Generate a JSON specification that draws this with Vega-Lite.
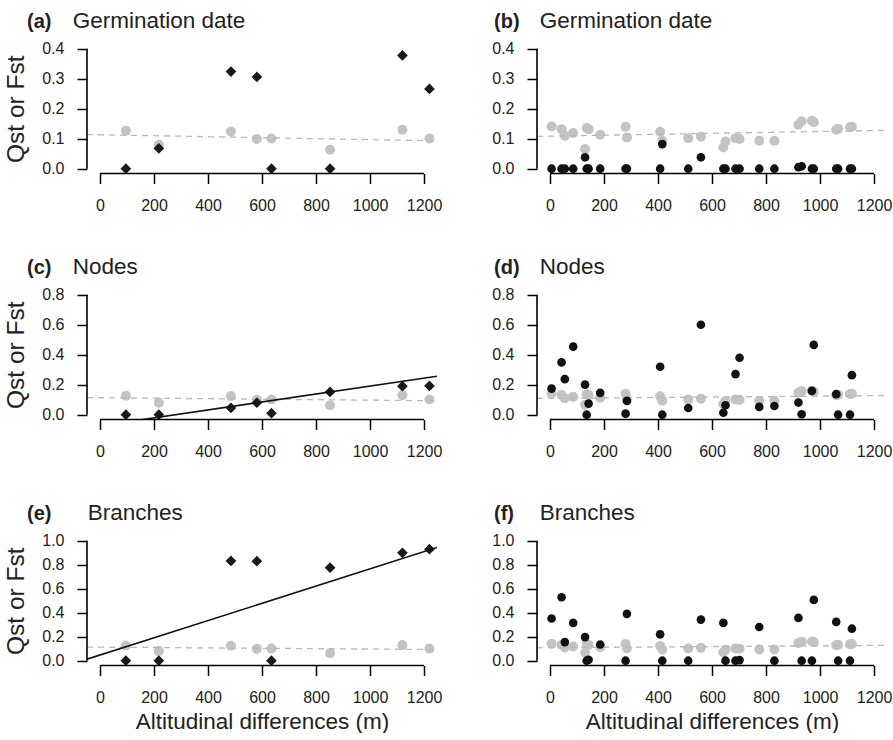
{
  "$schema": "https://vega.github.io/schema/vega-lite/v6.json",
  "background": "white",
  "padding": {"left": 3, "top": 10, "right": 0, "bottom": 0},
  "config": {
    "view": {"stroke": null},
    "font": "Liberation Sans",
    "axis": {
      "grid": false, "domain": false, "tickCount": 20,
      "tickColor": "#000", "tickWidth": 1.5, "tickSize": 10,
      "labelFont": "Liberation Sans", "labelFontSize": 16, "labelColor": "#222",
      "labelOverlap": false, "labelFlush": false,
      "titleFont": "Liberation Sans", "titleFontSize": 22.5, "titleFontWeight": "normal", "titleColor": "#222"
    },
    "axisX": {"labelPadding": 14, "titlePadding": 5, "format": "d"},
    "axisY": {"labelPadding": 13, "titlePadding": 13, "format": ".1f", "titleFontSize": 24.5},
    "title": {
      "anchor": "start", "frame": "group", "offset": 6,
      "font": "Liberation Sans", "fontSize": 20, "fontWeight": "bold", "color": "#222",
      "subtitleFont": "Liberation Sans", "subtitleFontSize": 22.5, "subtitleFontWeight": "normal",
      "subtitleColor": "#222", "subtitlePadding": -22
    }
  },
  "datasets": {
    "left": [
      {"x": 96, "fst": 0.127, "germ": 0.0, "nodes": 0.0, "branches": 0.0},
      {"x": 218, "fst": 0.080, "germ": 0.068, "nodes": 0.0, "branches": 0.0},
      {"x": 485, "fst": 0.124, "germ": 0.324, "nodes": 0.045, "branches": 0.832},
      {"x": 581, "fst": 0.099, "germ": 0.306, "nodes": 0.080, "branches": 0.830},
      {"x": 635, "fst": 0.101, "germ": 0.0, "nodes": 0.010, "branches": 0.0},
      {"x": 852, "fst": 0.063, "germ": 0.0, "nodes": 0.152, "branches": 0.776},
      {"x": 1120, "fst": 0.130, "germ": 0.378, "nodes": 0.190, "branches": 0.900},
      {"x": 1220, "fst": 0.101, "germ": 0.266, "nodes": 0.192, "branches": 0.930}
    ],
    "right": [
      {"x": 6, "fst": 0.141, "germ": 0.0, "nodes": 0.174, "branches": 0.352},
      {"x": 43, "fst": 0.132, "germ": 0.0, "nodes": 0.349, "branches": 0.529},
      {"x": 55, "fst": 0.110, "germ": 0.0, "nodes": 0.237, "branches": 0.155},
      {"x": 86, "fst": 0.119, "germ": 0.0, "nodes": 0.454, "branches": 0.315},
      {"x": 130, "fst": 0.066, "germ": 0.038, "nodes": 0.201, "branches": 0.197},
      {"x": 136, "fst": 0.136, "germ": 0.0, "nodes": 0.0, "branches": 0.0},
      {"x": 143, "fst": 0.132, "germ": 0.0, "nodes": 0.074, "branches": 0.008},
      {"x": 186, "fst": 0.113, "germ": 0.0, "nodes": 0.146, "branches": 0.135},
      {"x": 280, "fst": 0.140, "germ": 0.0, "nodes": 0.007, "branches": 0.0},
      {"x": 285, "fst": 0.104, "germ": 0.0, "nodes": 0.092, "branches": 0.391},
      {"x": 408, "fst": 0.123, "germ": 0.0, "nodes": 0.320, "branches": 0.220},
      {"x": 416, "fst": 0.093, "germ": 0.082, "nodes": 0.0, "branches": 0.0},
      {"x": 512, "fst": 0.102, "germ": 0.0, "nodes": 0.045, "branches": 0.0},
      {"x": 559, "fst": 0.107, "germ": 0.038, "nodes": 0.600, "branches": 0.343},
      {"x": 642, "fst": 0.071, "germ": 0.0, "nodes": 0.013, "branches": 0.315},
      {"x": 650, "fst": 0.091, "germ": 0.0, "nodes": 0.063, "branches": 0.0},
      {"x": 687, "fst": 0.102, "germ": 0.0, "nodes": 0.271, "branches": 0.0},
      {"x": 702, "fst": 0.099, "germ": 0.0, "nodes": 0.380, "branches": 0.005},
      {"x": 775, "fst": 0.093, "germ": 0.0, "nodes": 0.052, "branches": 0.281},
      {"x": 831, "fst": 0.093, "germ": 0.0, "nodes": 0.058, "branches": 0.0},
      {"x": 920, "fst": 0.147, "germ": 0.005, "nodes": 0.081, "branches": 0.357},
      {"x": 932, "fst": 0.158, "germ": 0.008, "nodes": 0.003, "branches": 0.0},
      {"x": 970, "fst": 0.160, "germ": 0.0, "nodes": 0.159, "branches": 0.0},
      {"x": 977, "fst": 0.155, "germ": 0.0, "nodes": 0.466, "branches": 0.507},
      {"x": 1060, "fst": 0.130, "germ": 0.0, "nodes": 0.137, "branches": 0.324},
      {"x": 1067, "fst": 0.133, "germ": 0.0, "nodes": 0.0, "branches": 0.0},
      {"x": 1111, "fst": 0.138, "germ": 0.0, "nodes": 0.0, "branches": 0.0},
      {"x": 1118, "fst": 0.140, "germ": 0.0, "nodes": 0.264, "branches": 0.267}
    ],
    "fstline": [
      {"side": "left", "x": -48, "y": 0.114},
      {"side": "left", "x": 1248, "y": 0.093},
      {"side": "right", "x": -48, "y": 0.108},
      {"side": "right", "x": 1248, "y": 0.128}
    ],
    "qstfit": [
      {"trait": "nodes", "x": -48, "y": -0.087},
      {"trait": "nodes", "x": 1248, "y": 0.257},
      {"trait": "branches", "x": -48, "y": 0.013},
      {"trait": "branches", "x": 1248, "y": 0.944}
    ]
  },
  "columns": 2,
  "spacing": {"row": 116, "column": 100},
  "bounds": "flush",
  "concat": [
    {
      "width": 350, "height": 129.5,
      "title": {"text": "(a)", "subtitle": "\u200b\u00a0\u00a0\u00a0\u00a0\u00a0\u00a0\u00a0\u200aGermination date", "dx": -60},
      "layer": [
        {"data": {"name": "left"}, "mark": {"type": "point", "filled": true, "shape": "circle", "size": 100, "color": "#c3c3c3", "opacity": 1},
         "encoding": {
           "x": {"field": "x", "type": "quantitative", "scale": {"domain": [-48, 1248], "nice": false, "zero": false}, "axis": {"values": [0, 200, 400, 600, 800, 1000, 1200], "title": null}},
           "y": {"field": "fst", "type": "quantitative", "scale": {"domain": [-0.016, 0.416], "nice": false, "zero": false}, "axis": {"values": [0, 0.1, 0.2, 0.3, 0.4], "title": "Qst or Fst"}}}},
        {"data": {"name": "fstline"}, "transform": [{"filter": "datum.side == 'left'"}], "mark": {"type": "line", "strokeDash": [6, 5], "color": "#b8b8b8", "strokeWidth": 1.3},
         "encoding": {"x": {"field": "x", "type": "quantitative"}, "y": {"field": "y", "type": "quantitative"}}},
        {"data": {"name": "left"}, "mark": {"type": "point", "filled": true, "shape": "diamond", "size": 115, "color": "#1a1a1a", "opacity": 1},
         "encoding": {"x": {"field": "x", "type": "quantitative"}, "y": {"field": "germ", "type": "quantitative"}}},
        {"data": {"values": [{}]}, "mark": {"type": "rule", "color": "#000", "strokeWidth": 1.6},
         "encoding": {"x": {"datum": 0}, "x2": {"datum": 1200}, "y": {"datum": -0.016}}},
        {"data": {"values": [{}]}, "mark": {"type": "rule", "color": "#000", "strokeWidth": 1.6},
         "encoding": {"x": {"datum": -48}, "y": {"datum": 0}, "y2": {"datum": 0.4}}}
      ]
    },
    {
      "width": 350, "height": 129.5,
      "title": {"text": "(b)", "subtitle": "\u200b\u00a0\u00a0\u00a0\u00a0\u00a0\u00a0\u00a0\u200aGermination date", "dx": -43},
      "layer": [
        {"data": {"name": "right"}, "mark": {"type": "point", "filled": true, "shape": "circle", "size": 100, "color": "#c3c3c3", "opacity": 1},
         "encoding": {
           "x": {"field": "x", "type": "quantitative", "scale": {"domain": [-48, 1248], "nice": false, "zero": false}, "axis": {"values": [0, 200, 400, 600, 800, 1000, 1200], "title": null}},
           "y": {"field": "fst", "type": "quantitative", "scale": {"domain": [-0.016, 0.416], "nice": false, "zero": false}, "axis": {"values": [0, 0.1, 0.2, 0.3, 0.4], "title": null}}}},
        {"data": {"name": "fstline"}, "transform": [{"filter": "datum.side == 'right'"}], "mark": {"type": "line", "strokeDash": [6, 5], "color": "#b8b8b8", "strokeWidth": 1.3},
         "encoding": {"x": {"field": "x", "type": "quantitative"}, "y": {"field": "y", "type": "quantitative"}}},
        {"data": {"name": "right"}, "mark": {"type": "point", "filled": true, "shape": "circle", "size": 75, "color": "#111", "opacity": 1},
         "encoding": {"x": {"field": "x", "type": "quantitative"}, "y": {"field": "germ", "type": "quantitative"}}},
        {"data": {"values": [{}]}, "mark": {"type": "rule", "color": "#000", "strokeWidth": 1.6},
         "encoding": {"x": {"datum": 0}, "x2": {"datum": 1200}, "y": {"datum": -0.016}}},
        {"data": {"values": [{}]}, "mark": {"type": "rule", "color": "#000", "strokeWidth": 1.6},
         "encoding": {"x": {"datum": -48}, "y": {"datum": 0}, "y2": {"datum": 0.4}}}
      ]
    },
    {
      "width": 350, "height": 129.5,
      "title": {"text": "(c)", "subtitle": "\u200b\u00a0\u00a0\u00a0\u00a0\u00a0\u00a0\u00a0\u200aNodes", "dx": -60},
      "layer": [
        {"data": {"name": "left"}, "mark": {"type": "point", "filled": true, "shape": "circle", "size": 100, "color": "#c3c3c3", "opacity": 1},
         "encoding": {
           "x": {"field": "x", "type": "quantitative", "scale": {"domain": [-48, 1248], "nice": false, "zero": false}, "axis": {"values": [0, 200, 400, 600, 800, 1000, 1200], "title": null}},
           "y": {"field": "fst", "type": "quantitative", "scale": {"domain": [-0.032, 0.832], "nice": false, "zero": false}, "axis": {"values": [0, 0.2, 0.4, 0.6, 0.8], "title": "Qst or Fst"}}}},
        {"data": {"name": "fstline"}, "transform": [{"filter": "datum.side == 'left'"}], "mark": {"type": "line", "strokeDash": [6, 5], "color": "#b8b8b8", "strokeWidth": 1.3},
         "encoding": {"x": {"field": "x", "type": "quantitative"}, "y": {"field": "y", "type": "quantitative"}}},
        {"data": {"name": "left"}, "mark": {"type": "point", "filled": true, "shape": "diamond", "size": 115, "color": "#1a1a1a", "opacity": 1},
         "encoding": {"x": {"field": "x", "type": "quantitative"}, "y": {"field": "nodes", "type": "quantitative"}}},
        {"data": {"name": "qstfit"}, "transform": [{"filter": "datum.trait == 'nodes'"}], "mark": {"type": "line", "color": "#111", "strokeWidth": 1.6, "clip": true},
         "encoding": {"x": {"field": "x", "type": "quantitative"}, "y": {"field": "y", "type": "quantitative"}}},
        {"data": {"values": [{}]}, "mark": {"type": "rule", "color": "#000", "strokeWidth": 1.6},
         "encoding": {"x": {"datum": 0}, "x2": {"datum": 1200}, "y": {"datum": -0.032}}},
        {"data": {"values": [{}]}, "mark": {"type": "rule", "color": "#000", "strokeWidth": 1.6},
         "encoding": {"x": {"datum": -48}, "y": {"datum": 0}, "y2": {"datum": 0.8}}}
      ]
    },
    {
      "width": 350, "height": 129.5,
      "title": {"text": "(d)", "subtitle": "\u200b\u00a0\u00a0\u00a0\u00a0\u00a0\u00a0\u00a0\u200aNodes", "dx": -43},
      "layer": [
        {"data": {"name": "right"}, "mark": {"type": "point", "filled": true, "shape": "circle", "size": 100, "color": "#c3c3c3", "opacity": 1},
         "encoding": {
           "x": {"field": "x", "type": "quantitative", "scale": {"domain": [-48, 1248], "nice": false, "zero": false}, "axis": {"values": [0, 200, 400, 600, 800, 1000, 1200], "title": null}},
           "y": {"field": "fst", "type": "quantitative", "scale": {"domain": [-0.032, 0.832], "nice": false, "zero": false}, "axis": {"values": [0, 0.2, 0.4, 0.6, 0.8], "title": null}}}},
        {"data": {"name": "fstline"}, "transform": [{"filter": "datum.side == 'right'"}], "mark": {"type": "line", "strokeDash": [6, 5], "color": "#b8b8b8", "strokeWidth": 1.3},
         "encoding": {"x": {"field": "x", "type": "quantitative"}, "y": {"field": "y", "type": "quantitative"}}},
        {"data": {"name": "right"}, "mark": {"type": "point", "filled": true, "shape": "circle", "size": 75, "color": "#111", "opacity": 1},
         "encoding": {"x": {"field": "x", "type": "quantitative"}, "y": {"field": "nodes", "type": "quantitative"}}},
        {"data": {"values": [{}]}, "mark": {"type": "rule", "color": "#000", "strokeWidth": 1.6},
         "encoding": {"x": {"datum": 0}, "x2": {"datum": 1200}, "y": {"datum": -0.032}}},
        {"data": {"values": [{}]}, "mark": {"type": "rule", "color": "#000", "strokeWidth": 1.6},
         "encoding": {"x": {"datum": -48}, "y": {"datum": 0}, "y2": {"datum": 0.8}}}
      ]
    },
    {
      "width": 350, "height": 129.5,
      "title": {"text": "(e)", "subtitle": "\u200b\u00a0\u00a0\u00a0\u00a0\u00a0\u00a0\u00a0\u00a0\u00a0\u2009Branches", "dx": -60},
      "layer": [
        {"data": {"name": "left"}, "mark": {"type": "point", "filled": true, "shape": "circle", "size": 100, "color": "#c3c3c3", "opacity": 1},
         "encoding": {
           "x": {"field": "x", "type": "quantitative", "scale": {"domain": [-48, 1248], "nice": false, "zero": false}, "axis": {"values": [0, 200, 400, 600, 800, 1000, 1200], "title": "Altitudinal differences (m)"}},
           "y": {"field": "fst", "type": "quantitative", "scale": {"domain": [-0.04, 1.04], "nice": false, "zero": false}, "axis": {"values": [0, 0.2, 0.4, 0.6, 0.8, 1.0], "title": "Qst or Fst"}}}},
        {"data": {"name": "fstline"}, "transform": [{"filter": "datum.side == 'left'"}], "mark": {"type": "line", "strokeDash": [6, 5], "color": "#b8b8b8", "strokeWidth": 1.3},
         "encoding": {"x": {"field": "x", "type": "quantitative"}, "y": {"field": "y", "type": "quantitative"}}},
        {"data": {"name": "left"}, "mark": {"type": "point", "filled": true, "shape": "diamond", "size": 115, "color": "#1a1a1a", "opacity": 1},
         "encoding": {"x": {"field": "x", "type": "quantitative"}, "y": {"field": "branches", "type": "quantitative"}}},
        {"data": {"name": "qstfit"}, "transform": [{"filter": "datum.trait == 'branches'"}], "mark": {"type": "line", "color": "#111", "strokeWidth": 1.6, "clip": true},
         "encoding": {"x": {"field": "x", "type": "quantitative"}, "y": {"field": "y", "type": "quantitative"}}},
        {"data": {"values": [{}]}, "mark": {"type": "rule", "color": "#000", "strokeWidth": 1.6},
         "encoding": {"x": {"datum": 0}, "x2": {"datum": 1200}, "y": {"datum": -0.04}}},
        {"data": {"values": [{}]}, "mark": {"type": "rule", "color": "#000", "strokeWidth": 1.6},
         "encoding": {"x": {"datum": -48}, "y": {"datum": 0}, "y2": {"datum": 1.0}}}
      ]
    },
    {
      "width": 350, "height": 129.5,
      "title": {"text": "(f)", "subtitle": "\u200b\u00a0\u00a0\u00a0\u00a0\u00a0\u00a0\u00a0\u200aBranches", "dx": -43},
      "layer": [
        {"data": {"name": "right"}, "mark": {"type": "point", "filled": true, "shape": "circle", "size": 100, "color": "#c3c3c3", "opacity": 1},
         "encoding": {
           "x": {"field": "x", "type": "quantitative", "scale": {"domain": [-48, 1248], "nice": false, "zero": false}, "axis": {"values": [0, 200, 400, 600, 800, 1000, 1200], "title": "Altitudinal differences (m)"}},
           "y": {"field": "fst", "type": "quantitative", "scale": {"domain": [-0.04, 1.04], "nice": false, "zero": false}, "axis": {"values": [0, 0.2, 0.4, 0.6, 0.8, 1.0], "title": null}}}},
        {"data": {"name": "fstline"}, "transform": [{"filter": "datum.side == 'right'"}], "mark": {"type": "line", "strokeDash": [6, 5], "color": "#b8b8b8", "strokeWidth": 1.3},
         "encoding": {"x": {"field": "x", "type": "quantitative"}, "y": {"field": "y", "type": "quantitative"}}},
        {"data": {"name": "right"}, "mark": {"type": "point", "filled": true, "shape": "circle", "size": 75, "color": "#111", "opacity": 1},
         "encoding": {"x": {"field": "x", "type": "quantitative"}, "y": {"field": "branches", "type": "quantitative"}}},
        {"data": {"values": [{}]}, "mark": {"type": "rule", "color": "#000", "strokeWidth": 1.6},
         "encoding": {"x": {"datum": 0}, "x2": {"datum": 1200}, "y": {"datum": -0.04}}},
        {"data": {"values": [{}]}, "mark": {"type": "rule", "color": "#000", "strokeWidth": 1.6},
         "encoding": {"x": {"datum": -48}, "y": {"datum": 0}, "y2": {"datum": 1.0}}}
      ]
    }
  ]
}
